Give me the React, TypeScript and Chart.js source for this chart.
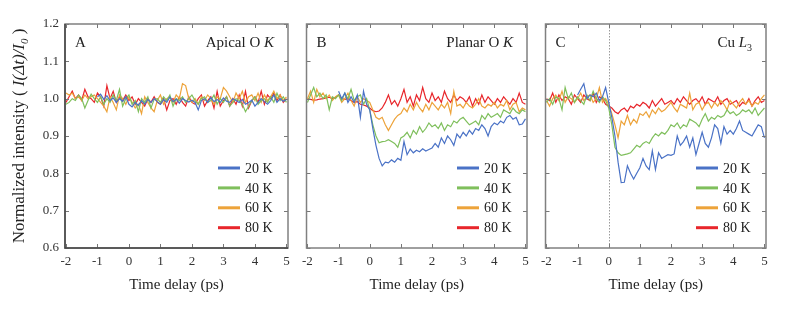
import React, { useEffect, useRef } from "react";
import { Chart, registerables } from "chart.js";
Chart.register(...registerables);

const FONT = "'Liberation Serif', 'DejaVu Serif', serif";

const delays = [
  -2.0, -1.9, -1.8, -1.7, -1.6, -1.5, -1.4, -1.3, -1.2, -1.1,
  -1.0, -0.9, -0.8, -0.7, -0.6, -0.5, -0.4, -0.3, -0.2, -0.1,
  0.0, 0.1, 0.2, 0.3, 0.4, 0.5, 0.6, 0.7, 0.8, 0.9,
  1.0, 1.1, 1.2, 1.3, 1.4, 1.5, 1.6, 1.7, 1.8, 1.9,
  2.0, 2.1, 2.2, 2.3, 2.4, 2.5, 2.6, 2.7, 2.8, 2.9,
  3.0, 3.1, 3.2, 3.3, 3.4, 3.5, 3.6, 3.7, 3.8, 3.9,
  4.0, 4.1, 4.2, 4.3, 4.4, 4.5, 4.6, 4.7, 4.8, 4.9,
  5.0,
];

const legendLabels = ["20 K", "40 K", "60 K", "80 K"];
const seriesColors = ["#4a72c6", "#7fbf5c", "#eda33a", "#e8262b"];
const xTickValues = [-2, -1, 0, 1, 2, 3, 4, 5];
const yTickValues = [0.6, 0.7, 0.8, 0.9, 1.0, 1.1, 1.2];

// Panel A: Apical O K
const apical20 = [
  null, null, null, null, null, null, null, null, null, null,
  1.005, 1.012, 0.998, 1.008, 0.995, 1.002, 0.99, 1.0, 0.993, 1.005,
  0.985, 0.978, 0.99, 0.982, 0.995, 0.985, 0.998, 0.99, 1.0, 0.992,
  0.985, 0.998, 0.99, 1.004, 0.992, 0.999, 0.988, 1.0, 0.995, 0.991,
  0.996, 0.99, 0.97, 0.995, 1.0, 0.99, 1.003, 0.992, 0.998, 0.99,
  1.002, 0.993, 0.99, 1.0, 0.995, 0.99, 0.998, 0.985, 0.99, 0.996,
  0.98, 0.99, 1.0, 0.992, 0.985, 0.995, 1.01, 0.99, 1.0, 0.993,
  0.998,
];
const apical40 = [
  0.985, 0.99, 1.0, 0.995, 1.01, 1.0, 0.975, 0.995, 1.012, 1.0,
  0.99, 1.005, 0.985, 1.0, 0.99, 1.01, 0.995, 1.025, 0.98, 1.0,
  1.01, 0.985, 0.995, 0.965, 1.0, 0.99, 1.005, 0.975, 0.998, 1.0,
  0.99, 1.005, 0.995, 1.01, 0.98, 1.0, 0.995, 1.005, 0.99, 1.0,
  1.01, 0.995, 0.985, 1.0, 1.005, 0.99, 0.995, 1.01, 0.985, 1.0,
  0.99, 1.005, 0.98, 0.99, 1.0, 0.995, 0.985, 0.965, 0.98, 0.995,
  1.005, 0.985, 0.995, 1.0, 0.99, 1.005, 0.99, 1.015, 0.995, 1.005,
  0.99,
];
const apical60 = [
  1.015, 1.01, 1.015, 1.0, 1.005, 0.995, 1.01, 1.0, 1.005, 1.01,
  1.0, 0.99, 0.98, 0.965, 1.005, 0.99, 0.97, 1.01, 1.0, 0.985,
  1.005, 0.99, 0.975, 0.985, 0.96, 1.005, 0.99, 0.975, 0.965, 0.995,
  1.01, 0.985, 1.0, 1.005, 0.99, 1.01, 1.0, 1.04, 1.035, 1.0,
  0.99, 1.0, 0.985, 1.005, 0.995, 1.01, 1.0, 0.985, 1.005, 1.0,
  1.03, 1.02, 1.005, 0.99, 1.015, 1.0, 1.02, 0.99, 1.005, 1.01,
  0.995, 1.015, 0.99, 1.01, 0.995, 1.005, 1.02, 1.0, 1.01, 0.995,
  1.005,
];
const apical80 = [
  0.99, 1.005, 1.02, 1.0, 1.01, 0.995, 1.025, 1.005, 1.0, 0.99,
  1.015, 1.005, 0.98, 1.035, 1.0, 1.02, 0.99, 1.005, 0.995, 1.01,
  0.995, 1.005, 0.985, 1.0, 0.99, 0.98, 1.0, 0.99, 1.005, 0.99,
  0.985, 1.0, 0.97, 0.995, 1.0, 0.985, 1.005, 0.99, 0.98, 1.005,
  0.99, 0.985, 1.0, 1.01, 0.98, 0.995, 1.005, 0.975, 1.02, 0.98,
  0.995, 1.005, 0.98, 1.0, 0.985, 1.01, 0.98, 1.02, 0.975, 0.995,
  1.005, 0.99, 1.02, 0.985, 1.01, 1.0, 1.015, 0.995, 1.01, 0.99,
  1.0,
];

// Panel B: Planar O K
const planar20 = [
  null, null, null, null, null, null, null, null, null, null,
  1.02, 1.0, 1.015, 0.99, 1.005, 0.99, 1.01, 0.95, 1.02, 0.985,
  0.97, 0.92, 0.875, 0.84, 0.82, 0.83, 0.828, 0.836, 0.83, 0.84,
  0.835, 0.885, 0.85, 0.865, 0.855, 0.862, 0.858, 0.866, 0.86, 0.864,
  0.868, 0.88, 0.87, 0.895, 0.88, 0.9, 0.89, 0.875, 0.905, 0.895,
  0.91, 0.9, 0.915, 0.905, 0.92, 0.915, 0.93, 0.92, 0.9, 0.925,
  0.935, 0.93, 0.94, 0.935, 0.95, 0.955, 0.945, 0.95, 0.93, 0.932,
  0.946,
];
const planar40 = [
  0.99, 1.01, 1.03, 1.005, 1.015, 1.0, 1.01, 0.97, 1.005, 1.0,
  1.01, 0.995, 1.015, 1.0, 1.025, 0.995, 1.005, 1.01, 0.985, 1.0,
  0.97, 0.93, 0.9, 0.882, 0.885, 0.886, 0.89, 0.885, 0.88, 0.87,
  0.895, 0.9, 0.91, 0.895, 0.915, 0.905, 0.925, 0.91, 0.92, 0.935,
  0.925, 0.93, 0.92, 0.935, 0.915, 0.93, 0.925, 0.94, 0.935, 0.945,
  0.95, 0.94, 0.93, 0.935, 0.94, 0.93, 0.955, 0.945, 0.96, 0.95,
  0.955, 0.96, 0.95, 0.97, 0.965, 0.96, 0.975, 0.965, 0.96, 0.97,
  0.965,
];
const planar60 = [
  1.0, 1.02, 0.99, 1.025, 1.005, 1.015, 1.0, 1.01, 0.995, 1.005,
  1.01, 0.99, 1.0, 1.015, 0.995, 0.98, 1.005, 0.99, 1.0, 0.995,
  0.99, 0.97, 0.95, 0.945, 0.95, 0.93, 0.915, 0.93, 0.945, 0.955,
  0.96, 0.975, 0.965, 0.985, 0.97, 0.99, 0.975, 0.965, 0.985, 0.97,
  0.99, 0.98, 0.97, 0.985, 0.975, 0.99, 0.96, 1.02, 0.98, 0.985,
  0.975, 0.99, 0.98, 0.975, 0.985, 1.0, 0.98, 0.975, 0.985, 0.98,
  0.99, 0.975, 0.985, 0.98, 0.995, 0.97, 0.985, 0.99, 0.965, 0.975,
  0.97,
];
const planar80 = [
  1.0, 0.998, 0.996, 0.997, 0.999, 1.0, 1.002, 1.004, 1.0, 1.003,
  1.01, 1.0, 0.998, 1.0, 0.995, 0.99, 0.992, 0.985, 0.983, 0.98,
  0.975, 0.968, 0.965, 0.967, 0.975, 0.99, 1.01, 0.985, 0.995, 0.98,
  1.0, 1.025, 0.99, 1.005, 0.98, 1.01, 0.995, 1.03, 1.0, 0.99,
  1.015, 0.995, 1.005, 0.99, 1.02, 1.0, 0.99, 1.01, 0.995, 1.005,
  1.0, 0.99, 1.005, 0.98, 1.0, 0.985, 1.01, 0.99, 1.005, 0.995,
  0.985, 1.0, 0.99, 1.005, 0.995, 0.985, 1.0, 0.99, 1.015, 0.99,
  0.985,
];

// Panel C: Cu L3
const copper20 = [
  null, null, null, null, null, null, null, null, null, null,
  1.01, 1.025, 1.04, 1.0, 1.01, 1.005, 1.015, 0.995, 1.005, 1.03,
  0.99, 0.95, 0.9, 0.83, 0.775, 0.776, 0.82, 0.8, 0.785, 0.8,
  0.815, 0.84, 0.82, 0.81, 0.86, 0.81, 0.855, 0.84, 0.845, 0.85,
  0.848, 0.852, 0.9, 0.875, 0.885, 0.9, 0.87, 0.895, 0.85, 0.88,
  0.91, 0.88, 0.87, 0.895, 0.93, 0.92, 0.88, 0.925, 0.905, 0.915,
  0.905, 0.92, 0.94, 0.915, 0.91, 0.905, 0.9, 0.915, 0.93, 0.925,
  0.895,
];
const copper40 = [
  0.99, 1.0, 0.985, 1.005, 1.0, 0.97, 1.03, 1.0, 1.015, 0.99,
  1.005, 0.995, 0.985, 1.01, 0.995, 1.02, 1.0, 0.99, 1.005, 0.995,
  0.975, 0.93, 0.87, 0.855, 0.848, 0.85, 0.852, 0.855, 0.865, 0.875,
  0.87, 0.88, 0.885, 0.88, 0.895, 0.906, 0.9, 0.91, 0.905, 0.915,
  0.93, 0.925, 0.935, 0.92, 0.93, 0.925, 0.945, 0.94, 0.935, 0.925,
  0.945, 0.96, 0.94, 0.95, 0.945, 0.955, 0.95, 0.955, 0.97, 0.96,
  0.965, 0.955, 0.96, 0.97, 0.965, 0.97, 0.96, 0.975, 0.955, 0.965,
  0.975,
];
const copper60 = [
  0.995, 0.98, 1.0, 1.01, 0.995, 1.02, 0.99, 1.005, 1.0, 0.99,
  1.0, 1.015, 0.995, 1.005, 1.01, 0.99, 1.0, 1.03, 0.99, 1.0,
  0.985, 0.96, 0.93, 0.895, 0.94, 0.93, 0.955, 0.93, 0.945, 0.935,
  0.96, 0.955, 0.965, 0.95, 0.97, 0.96, 0.975, 0.965, 0.97, 0.98,
  0.99, 0.975, 0.965, 0.985, 0.98, 0.975, 1.015, 0.97, 0.985, 0.99,
  0.97, 0.985, 0.99, 0.975, 0.99, 0.98, 0.995, 0.985, 0.97, 0.995,
  0.985, 0.975, 0.99, 1.0, 0.985, 0.995, 0.98, 0.99, 0.985, 1.0,
  1.01,
];
const copper80 = [
  1.0, 0.995, 1.015, 0.99, 1.01, 0.995, 1.005, 1.0, 0.985, 1.01,
  1.0, 0.99, 1.01, 1.0, 0.995, 1.015, 0.99, 1.005, 1.0, 0.985,
  0.98, 0.975, 0.965, 0.96, 0.97, 0.975, 0.965, 0.98, 0.975, 0.985,
  0.98, 0.99, 0.985, 0.975, 0.995, 0.98, 0.99, 1.0, 0.985, 0.99,
  0.995, 0.985, 1.0, 0.99, 1.005, 0.995, 0.985, 0.995, 1.0, 0.99,
  1.005, 0.985, 1.0, 0.995, 0.99, 1.005, 0.985, 0.995, 1.0, 0.985,
  0.99, 0.995, 0.98, 0.99, 0.985, 1.0, 0.98, 0.995, 1.005, 0.99,
  0.995,
];

type Part = { text: string; italic?: boolean; sub?: boolean };

function drawRich(ctx: CanvasRenderingContext2D, parts: Part[], x: number, y: number, size: number, align: "left" | "right" | "center") {
  const fontFor = (p: Part) => `${p.italic ? "italic " : ""}${p.sub ? Math.round(size * 0.65) : size}px ${FONT}`;
  let total = 0;
  const widths = parts.map((p) => {
    ctx.font = fontFor(p);
    const w = ctx.measureText(p.text).width;
    total += w;
    return w;
  });
  let cx = align === "left" ? x : align === "right" ? x - total : x - total / 2;
  ctx.textAlign = "left";
  ctx.textBaseline = "alphabetic";
  parts.forEach((p, i) => {
    ctx.font = fontFor(p);
    ctx.fillText(p.text, cx, y + (p.sub ? size * 0.25 : 0));
    cx += widths[i];
  });
}

type PanelCfg = {
  left: number;
  width: number;
  padL: number;
  padR: number;
  showY: boolean;
  letter: string;
  title: Part[];
  zeroLine: boolean;
  series: (number | null)[][];
};

const panels: PanelCfg[] = [
  { left: 0, width: 296, padL: 25, padR: 8, showY: true, letter: "A", title: [{ text: "Apical O " }, { text: "K", italic: true }], zeroLine: false, series: [apical20, apical40, apical60, apical80] },
  { left: 296, width: 239, padL: 8, padR: 8, showY: false, letter: "B", title: [{ text: "Planar O " }, { text: "K", italic: true }], zeroLine: false, series: [planar20, planar40, planar60, planar80] },
  { left: 535, width: 254, padL: 7, padR: 23, showY: false, letter: "C", title: [{ text: "Cu " }, { text: "L", italic: true }, { text: "3", sub: true }], zeroLine: true, series: [copper20, copper40, copper60, copper80] },
];

function makePlugin(cfg: PanelCfg) {
  return {
    id: "panelDecor" + cfg.letter,
    beforeDatasetsDraw(chart: any) {
      if (!cfg.zeroLine) return;
      const { ctx, chartArea: a, scales } = chart;
      const px = Math.round(scales.x.getPixelForValue(0)) + 0.5;
      ctx.save();
      ctx.strokeStyle = "#9a9a9a";
      ctx.lineWidth = 1;
      ctx.setLineDash([1.5, 1.5]);
      ctx.beginPath();
      ctx.moveTo(px, a.top);
      ctx.lineTo(px, a.bottom);
      ctx.stroke();
      ctx.restore();
    },
    afterDraw(chart: any) {
      const { ctx, chartArea: a, scales } = chart;
      const xs = scales.x;
      const ys = scales.y;
      ctx.save();
      // inner tick marks
      ctx.strokeStyle = "#777";
      ctx.lineWidth = 1;
      ctx.setLineDash([]);
      ctx.beginPath();
      xTickValues.forEach((v) => {
        const px = Math.round(xs.getPixelForValue(v)) + 0.5;
        ctx.moveTo(px, a.bottom);
        ctx.lineTo(px, a.bottom - 4);
        ctx.moveTo(px, a.top);
        ctx.lineTo(px, a.top + 4);
      });
      yTickValues.forEach((v) => {
        const py = Math.round(ys.getPixelForValue(v)) + 0.5;
        ctx.moveTo(a.left, py);
        ctx.lineTo(a.left + 4, py);
        ctx.moveTo(a.right, py);
        ctx.lineTo(a.right - 4, py);
      });
      ctx.stroke();
      // border
      ctx.strokeStyle = "#808080";
      ctx.lineWidth = 1.5;
      ctx.strokeRect(a.left, a.top, a.right - a.left, a.bottom - a.top);
      if (cfg.showY) {
        ctx.strokeStyle = "#444";
        ctx.beginPath();
        ctx.moveTo(a.left, a.top);
        ctx.lineTo(a.left, a.bottom);
        ctx.lineTo(a.right, a.bottom);
        ctx.stroke();
      }
      // panel letter and title
      ctx.fillStyle = "#222";
      drawRich(ctx, [{ text: cfg.letter }], a.left + 10, a.top + 23, 15, "left");
      drawRich(ctx, cfg.title, a.right - 14, a.top + 23, 15, "right");
      // legend
      legendLabels.forEach((lab, i) => {
        const ly = a.top + 144 + i * 19.9;
        ctx.strokeStyle = seriesColors[i];
        ctx.lineWidth = 3;
        ctx.beginPath();
        ctx.moveTo(a.right - 70, ly);
        ctx.lineTo(a.right - 48, ly);
        ctx.stroke();
        ctx.fillStyle = "#222";
        ctx.font = `14px ${FONT}`;
        ctx.textAlign = "left";
        ctx.textBaseline = "middle";
        ctx.fillText(lab, a.right - 43, ly + 1);
      });
      // y title
      if (cfg.showY) {
        ctx.translate(24, (a.top + a.bottom) / 2);
        ctx.rotate(-Math.PI / 2);
        ctx.fillStyle = "#222";
        drawRich(
          ctx,
          [
            { text: "Normalized intensity ( " },
            { text: "I(Δt)/I", italic: true },
            { text: "0", italic: true, sub: true },
            { text: " )" },
          ],
          0,
          0,
          17,
          "center"
        );
      }
      ctx.restore();
    },
  };
}

function Panel({ cfg }: { cfg: PanelCfg }) {
  const ref = useRef<HTMLCanvasElement | null>(null);
  useEffect(() => {
    if (!ref.current) return;
    const chart = new Chart(ref.current, {
      type: "line",
      data: {
        datasets: cfg.series.map((vals, i) => ({
          label: legendLabels[i],
          data: delays.map((t, j) => ({ x: t, y: vals[j] })),
          borderColor: seriesColors[i],
          backgroundColor: seriesColors[i],
          borderWidth: 1.2,
          pointRadius: 0,
          tension: 0,
          fill: false,
          spanGaps: false,
        })),
      },
      options: {
        responsive: false,
        animation: false,
        layout: { padding: { left: cfg.padL, right: cfg.padR, top: 24, bottom: 20 } },
        plugins: { legend: { display: false }, tooltip: { enabled: false } },
        scales: {
          x: {
            type: "linear",
            min: -2.03,
            max: 5.05,
            afterBuildTicks: (s: any) => {
              s.ticks = xTickValues.map((v) => ({ value: v }));
            },
            afterFit: (s: any) => {
              s.height = 47;
            },
            grid: { display: false, drawTicks: false },
            border: { display: false },
            ticks: {
              padding: 6,
              color: "#333",
              font: { family: FONT, size: 13 },
              callback: (v: any) => String(v),
            },
            title: {
              display: true,
              text: "Time delay (ps)",
              color: "#222",
              font: { family: FONT, size: 15 },
              padding: { top: 0, bottom: 1 },
            },
          },
          y: {
            type: "linear",
            display: cfg.showY,
            min: 0.6,
            max: 1.2,
            afterBuildTicks: (s: any) => {
              s.ticks = yTickValues.map((v) => ({ value: v }));
            },
            afterFit: (s: any) => {
              s.width = cfg.showY ? 40 : 0;
            },
            grid: { display: false, drawTicks: false },
            border: { display: false },
            ticks: {
              padding: 6,
              color: "#333",
              font: { family: FONT, size: 13 },
              callback: (v: any) => Number(v).toFixed(1),
            },
          },
        },
      },
      plugins: [makePlugin(cfg)],
    } as any);
    return () => chart.destroy();
  }, [cfg]);
  return (
    <canvas
      ref={ref}
      width={cfg.width}
      height={315}
      style={{ position: "absolute", left: cfg.left, top: 0, width: cfg.width, height: 315 }}
    />
  );
}

export default function App() {
  return (
    <div style={{ position: "fixed", left: 0, top: 0, width: 789, height: 315, background: "#fff" }}>
      {panels.map((p) => (
        <Panel key={p.letter} cfg={p} />
      ))}
    </div>
  );
}
